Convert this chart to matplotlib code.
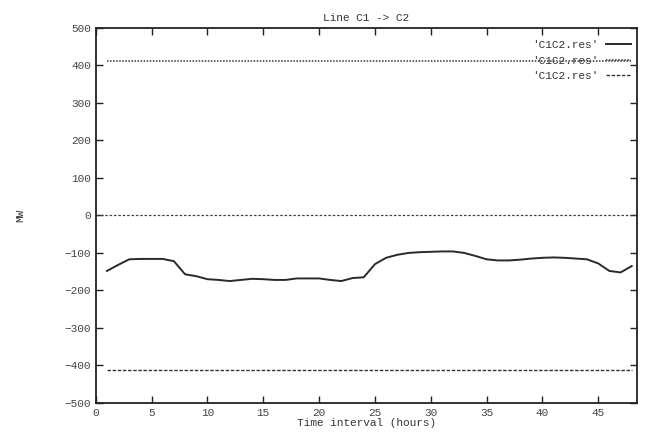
import matplotlib
matplotlib.use('Agg')
import matplotlib.pyplot as plt

# hourly values
hours = list(range(1, 49))
flow = [-148, -132, -117, -116, -116, -116, -122, -157, -162, -170,
        -172, -175, -172, -169, -170, -172, -172, -168, -168, -168,
        -172, -175, -167, -165, -130, -113, -105, -100, -98, -97,
        -96, -96, -100, -108, -117, -120, -120, -118, -115, -113,
        -112, -113, -115, -117, -128, -148, -152, -135]
upper_limit = [412] * 48
lower_limit = [-412] * 48

series_name = "'C1C2.res'"
yticks = list(range(-500, 501, 100))
xticks = list(range(0, 46, 5))

plt.rcParams['font.family'] = ['Liberation Mono', 'DejaVu Sans Mono']

fig = plt.figure(figsize=(6.47, 4.37), dpi=100)
ax = fig.add_axes([0.148, 0.078, 0.837, 0.858])

ax.axhline(0, color='#444444', linestyle=(0, (2, 1.5)), linewidth=0.9)
ax.plot(hours, flow, color='#2a2a2a', linewidth=1.4, label=series_name)
ax.plot(hours, upper_limit, color='#333333', linestyle=(0, (1, 1)), linewidth=1.1, label=series_name)
ax.plot(hours, lower_limit, color='#333333', linestyle=(0, (2.5, 1.2)), linewidth=1.0, label=series_name)

ax.set_xlim(0, 48.5)
ax.set_ylim(-500, 500)
ax.set_xticks(xticks)
ax.set_yticks(yticks)
ax.tick_params(direction='in', length=5, width=1.0, top=True, right=True,
               labelsize=8, labelcolor='#444444', colors='#222222')
for side in ax.spines.values():
    side.set_linewidth(1.3)
    side.set_color('#222222')

ax.set_title('Line C1 -> C2', fontsize=8, color='#333333', pad=5)
ax.set_xlabel('Time interval (hours)', fontsize=8, color='#333333', labelpad=0)
ax.set_ylabel('MW', fontsize=8, color='#333333', labelpad=28)

ax.legend(loc='upper right', bbox_to_anchor=(1.0, 0.985), frameon=False,
          markerfirst=False, fontsize=8, handlelength=2.2, handletextpad=0.7,
          labelspacing=0.5, borderaxespad=0.2, labelcolor='#333333')

plt.savefig('out.png', dpi=100)
